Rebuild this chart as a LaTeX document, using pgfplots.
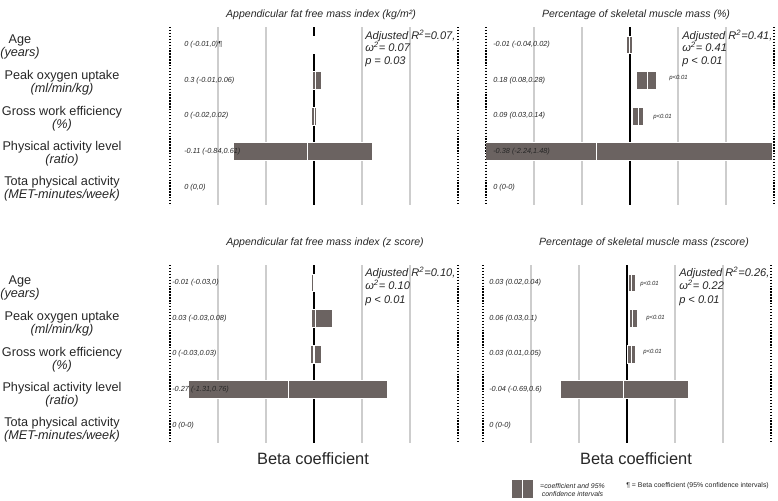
\documentclass[border=0pt]{standalone}
\usepackage{pgfplots}
\pgfplotsset{compat=1.18}
\usepackage{fontspec}
\setmainfont{Liberation Sans}

\definecolor{barc}{HTML}{6B6361}
\definecolor{gridc}{HTML}{CDCDCD}
\definecolor{txt}{HTML}{262626}

% one half of a confidence bar: row, from, to
\newcommand\ciseg[3]{%
  \pgfmathsetmacro\ya{#1-0.25}\pgfmathsetmacro\yb{#1+0.25}%
  \edef\next{\noexpand\addplot[fill=barc,draw=white,line width=0.6pt] coordinates {(#2,\ya) (#3,\ya) (#3,\yb) (#2,\yb)} -- cycle;}\next}

\pgfplotsset{panel/.style={
  width=216pt,height=133.5pt,scale only axis,anchor=north west,
  xmin=-1.5,xmax=1.5,ymin=0.5,ymax=5.5,y dir=reverse,
  separate axis lines,
  x axis line style={draw=none},
  y axis line style={draw=black,line width=1pt,dash pattern=on 1pt off 1.2pt},
  major tick length=0pt,
  xtick={-1,-0.5,0.5,1},xticklabels={},ytick=\empty,
  xmajorgrids,grid style={color=gridc,line width=1pt}}}

\begin{document}
\begin{tikzpicture}
\useasboundingbox (0,0) rectangle (583.5pt,-375pt);

% top left
\begin{axis}[panel,at={(127.5pt,-20.25pt)}]
\addplot[black,line width=0.9pt] coordinates {(0,0.5) (0,5.5)};
\ciseg{1}{-0.01}{0}
\ciseg{2}{-0.02}{0.01}\ciseg{2}{0.01}{0.08}
\ciseg{3}{-0.03}{0}\ciseg{3}{0}{0.03}
\ciseg{4}{-0.84}{-0.07}\ciseg{4}{-0.07}{0.61}
\end{axis}

% top right
\begin{axis}[panel,at={(364.5pt,-20.25pt)}]
\addplot[black,line width=0.9pt] coordinates {(0,0.5) (0,5.5)};
\ciseg{1}{-0.04}{-0.01}\ciseg{1}{-0.01}{0.03}
\ciseg{2}{0.07}{0.18}\ciseg{2}{0.18}{0.28}
\ciseg{3}{0.03}{0.09}\ciseg{3}{0.09}{0.14}
\ciseg{4}{-2.24}{-0.35}\ciseg{4}{-0.35}{1.48}
\end{axis}

% bottom left
\begin{axis}[panel,at={(127.5pt,-198.75pt)}]
\addplot[black,line width=0.9pt] coordinates {(0,0.5) (0,5.5)};
\ciseg{1}{-0.03}{-0.01}\ciseg{1}{-0.01}{0}
\ciseg{2}{-0.03}{0.01}\ciseg{2}{0.01}{0.19}
\ciseg{3}{-0.04}{-0.01}\ciseg{3}{0}{0.08}
\ciseg{4}{-1.31}{-0.27}\ciseg{4}{-0.27}{0.76}
\end{axis}

% bottom right
\begin{axis}[panel,at={(362.25pt,-198.75pt)}]
\addplot[black,line width=0.9pt] coordinates {(0,0.5) (0,5.5)};
\ciseg{1}{0.01}{0.045}\ciseg{1}{0.045}{0.085}
\ciseg{2}{0.02}{0.06}\ciseg{2}{0.06}{0.11}
\ciseg{3}{0.0}{0.045}\ciseg{3}{0.045}{0.09}
\ciseg{4}{-0.69}{-0.04}\ciseg{4}{-0.04}{0.64}
\end{axis}

\begin{scope}[x=0.75pt,y=-0.75pt,text=txt]
% panel titles
\begin{scope}[font=\fontsize{7.9}{9}\selectfont\itshape]
\node at (321,15) {Appendicular fat free mass index (kg/m²)};
\node at (636,15) {Percentage of skeletal muscle mass (\%)};
\node at (325,243) {Appendicular fat free mass index (z score)};
\node at (644,243) {Percentage of skeletal muscle mass (zscore)};
\end{scope}

% row labels
\begin{scope}[font=\fontsize{9.5}{9.8}\selectfont,align=center]
\foreach \off in {0,241}{
\node at (20,46.5+\off) {Age\\\textit{(years)}};
\node at (62,82.5+\off) {Peak oxygen uptake\\\textit{(ml/min/kg)}};
\node at (62,118.5+\off) {Gross work efficiency\\\textit{(\%)}};
\node at (62,153.5+\off) {Physical activity level\\\textit{(ratio)}};
\node at (62,189+\off) {Tota physical activity\\\textit{(MET-minutes/week)}};
}
\end{scope}

% coefficient labels
\begin{scope}[font=\fontsize{5.5}{6}\selectfont\itshape,anchor=west,inner sep=0pt]
\node[anchor=west] at (184,44.8) {0 (-0.01,0)¶};
\node[anchor=west] at (184,80.4) {0.3 (-0.01,0.06)};
\node[anchor=west] at (184,116) {0 (-0.02,0.02)};
\node[anchor=west] at (184,151.6) {-0.11 (-0.84,0.61)};
\node[anchor=west] at (184,187.2) {0 (0,0)};
\node[anchor=west] at (493,44.8) {-0.01 (-0.04,0.02)};
\node[anchor=west] at (493,80.4) {0.18 (0.08,0.28)};
\node[anchor=west] at (493,116) {0.09 (0.03,0.14)};
\node[anchor=west] at (493,151.6) {-0.38 (-2.24,1.48)};
\node[anchor=west] at (493,187.2) {0 (0-0)};
\node[anchor=west] at (172,282.8) {-0.01 (-0.03,0)};
\node[anchor=west] at (172,318.4) {0.03 (-0.03,0.08)};
\node[anchor=west] at (172,354) {0 (-0.03,0.03)};
\node[anchor=west] at (172,389.6) {-0.27 (-1.31,0.76)};
\node[anchor=west] at (172,425.2) {0 (0-0)};
\node[anchor=west] at (489,282.8) {0.03 (0.02,0.04)};
\node[anchor=west] at (489,318.4) {0.06 (0.03,0.1)};
\node[anchor=west] at (489,354) {0.03 (0.01,0.05)};
\node[anchor=west] at (489,389.6) {-0.04 (-0.69,0.6)};
\node[anchor=west] at (489,425.2) {0 (0-0)};
\end{scope}

% p values
\begin{scope}[font=\fontsize{4.5}{5}\selectfont\itshape,inner sep=0pt]
\node[anchor=west] at (669,78) {p<0.01};
\node[anchor=west] at (653,117) {p<0.01};
\node[anchor=west] at (640,284) {p<0.01};
\node[anchor=west] at (646,318) {p<0.01};
\node[anchor=west] at (643,352) {p<0.01};
\end{scope}

% model fit
\begin{scope}[font=\fontsize{8.3}{9}\selectfont\itshape,inner sep=0pt,anchor=base west]
\node[anchor=base west] at (365,39) {Adjusted R\textsuperscript{2}=0.07,};
\node[anchor=base west] at (365,51.5) {ω\textsuperscript{2}= 0.07};
\node[anchor=base west] at (365,64) {p = 0.03};
\node[anchor=base west] at (682,39) {Adjusted R\textsuperscript{2}=0.41,};
\node[anchor=base west] at (682,51.5) {ω\textsuperscript{2}= 0.41};
\node[anchor=base west] at (682,64) {p < 0.01};
\node[anchor=base west] at (365,276) {Adjusted R\textsuperscript{2}=0.10,};
\node[anchor=base west] at (365,289) {ω\textsuperscript{2}= 0.10};
\node[anchor=base west] at (365,303) {p < 0.01};
\node[anchor=base west] at (679,276) {Adjusted R\textsuperscript{2}=0.26,};
\node[anchor=base west] at (679,289) {ω\textsuperscript{2}= 0.22};
\node[anchor=base west] at (679,303) {p < 0.01};
\end{scope}

% axis titles
\node[font=\fontsize{12.3}{14}\selectfont] at (313,459) {Beta coefficient};
\node[font=\fontsize{12.3}{14}\selectfont] at (636,459) {Beta coefficient};

% legend
\fill[barc] (512,480) rectangle (521.5,498);
\fill[barc] (523,480) rectangle (533,498);
\node[font=\fontsize{5.2}{6.2}\selectfont\itshape,align=center] at (572.5,490) {=coefficient and 95\%\\confidence intervals};
\node[font=\fontsize{5.2}{6.2}\selectfont,anchor=west,inner sep=0pt] at (626,486) {¶ = Beta coefficient (95\% confidence intervals)};
\end{scope}
\end{tikzpicture}
\end{document}
